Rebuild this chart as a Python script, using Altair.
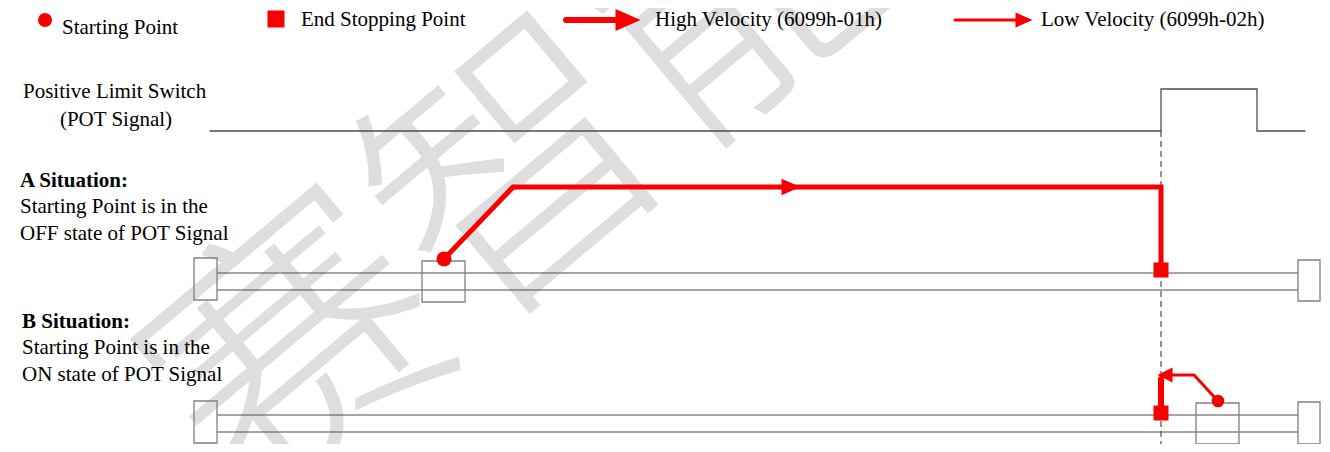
import altair as alt
import pandas as pd

# ---------------- data (diagram coordinates, reference pixels) ----------------
# watermark
wm_text = ["赛智能"]
wm_x = [525]
wm_y = [178]

# legend
leg_circle_x, leg_circle_y = [45], [20]
leg_square_x, leg_square_y = [276], [19]
leg_high_x, leg_high_y = [566, 616], [20, 20]
leg_high_head_x, leg_high_head_y = [628], [20]
leg_low_x, leg_low_y = [955, 1016], [20, 20]
leg_low_head_x, leg_low_head_y = [1024], [20]
leg_labels = ["Starting Point", "End Stopping Point", "High Velocity (6099h-01h)", "Low Velocity (6099h-02h)"]
leg_label_x = [62, 301, 655, 1041]
leg_label_y = [28, 20, 20, 20]

# POT signal
pot_x = [210, 1161, 1161, 1257, 1257, 1305]
pot_y = [131, 131, 89, 89, 131, 131]
dash_x = [1161]
dash_y1, dash_y2 = [131], [444]

# left labels
normal_labels = ["Positive Limit Switch", "Starting Point is in the", "OFF state of POT Signal",
                 "Starting Point is in the", "ON state of POT Signal"]
normal_x = [23, 20, 20, 22, 22]
normal_y = [92, 207, 234, 348, 375]
centered_labels = ["(POT Signal)"]
centered_x = [116]
centered_y = [120]
bold_labels = ["A Situation:", "B Situation:"]
bold_x = [20, 22]
bold_y = [181, 322]

# tracks
track_x1 = [217, 217, 217, 217]
track_x2 = [1298, 1298, 1298, 1298]
track_y = [273, 290, 415, 432]

# boxes (x1, x2, y1, y2)
box_x1 = [194, 1298, 422, 194, 1298, 1196]
box_x2 = [217, 1320, 465, 217, 1320, 1239]
box_y1 = [258, 260, 261, 401, 402, 403]
box_y2 = [300, 301, 302, 443, 444, 444]

# A situation path
a_path_x = [444, 513, 1161, 1161]
a_path_y = [259, 187, 187, 270]
a_head_x, a_head_y = [791], [187]
a_start_x, a_start_y = [444], [259]
a_end_x, a_end_y = [1161], [270]

# B situation path
b_low_x = [1218, 1194, 1170]
b_low_y = [401, 375, 375]
b_high_x = [1161, 1161]
b_high_y = [379, 413]
b_head_x, b_head_y = [1165], [375]
b_start_x, b_start_y = [1218], [401]
b_end_x, b_end_y = [1161], [413]

RED = "#f80000"
GRAY = "#4d4d4d"
BOXGRAY = "#808080"
SERIF = "Liberation Serif"

XS = alt.Scale(domain=[8, 1322], nice=False, zero=False)
YS = alt.Scale(domain=[8, 444], nice=False, zero=False, reverse=True)


def X(f="x"):
    return alt.X(f"{f}:Q", scale=XS, axis=None)


def Y(f="y"):
    return alt.Y(f"{f}:Q", scale=YS, axis=None)


def pts(xs, ys):
    return pd.DataFrame({"x": xs, "y": ys, "i": list(range(len(xs)))})


def line(xs, ys, width, color):
    return alt.Chart(pts(xs, ys)).mark_line(
        strokeWidth=width, color=color, strokeCap="round", strokeJoin="miter"
    ).encode(x=X(), y=Y(), order="i:Q")


def point(xs, ys, shape, size, color=RED):
    return alt.Chart(pts(xs, ys)).mark_point(
        shape=shape, size=size, filled=True, color=color, opacity=1, strokeWidth=0
    ).encode(x=X(), y=Y())


def texts(labels, xs, ys, weight="normal", align="left", size=21):
    df = pd.DataFrame({"x": xs, "y": ys, "t": labels})
    return alt.Chart(df).mark_text(
        font=SERIF, fontSize=size, fontWeight=weight, align=align, baseline="middle", color="#000000"
    ).encode(x=X(), y=Y(), text="t:N")


HEAD_R = "M-1,-0.88L1,0L-1,0.88Z"
HEAD_L = "M1,-1L-1,0L1,1Z"

layers = []

# watermark
layers.append(
    alt.Chart(pd.DataFrame({"x": wm_x, "y": wm_y, "t": wm_text})).mark_text(
        font="Noto Sans CJK SC", fontSize=285, fontWeight=300, angle=320, align="center",
        baseline="middle", color="#dedede"
    ).encode(x=X(), y=Y(), text="t:N")
)

# POT signal and dashed line
layers.append(line(pot_x, pot_y, 1.3, GRAY))
layers.append(
    alt.Chart(pd.DataFrame({"x": dash_x, "y": dash_y1, "y2": dash_y2})).mark_rule(
        color=GRAY, strokeWidth=1.2, strokeDash=[6, 4]
    ).encode(x=X(), y=Y(), y2="y2:Q")
)

# tracks
layers.append(
    alt.Chart(pd.DataFrame({"x": track_x1, "x2": track_x2, "y": track_y})).mark_rule(
        color=GRAY, strokeWidth=1.2
    ).encode(x=X(), x2="x2:Q", y=Y())
)

# boxes
layers.append(
    alt.Chart(pd.DataFrame({"x": box_x1, "x2": box_x2, "y": box_y1, "y2": box_y2})).mark_rect(
        fillOpacity=0, stroke=BOXGRAY, strokeWidth=1.3
    ).encode(x=X(), x2="x2:Q", y=Y(), y2="y2:Q")
)

# A path
layers.append(line(a_path_x, a_path_y, 5, RED))
layers.append(point(a_head_x, a_head_y, HEAD_R, 19 * 19))
layers.append(point(a_start_x, a_start_y, "circle", 225))
layers.append(point(a_end_x, a_end_y, "square", 225))

# B path
layers.append(line(b_low_x, b_low_y, 3, RED))
layers.append(line(b_high_x, b_high_y, 6, RED))
layers.append(point(b_head_x, b_head_y, HEAD_L, 15 * 15))
layers.append(point(b_start_x, b_start_y, "circle", 160))
layers.append(point(b_end_x, b_end_y, "square", 225))

# legend
layers.append(point(leg_circle_x, leg_circle_y, "circle", 196))
layers.append(point(leg_square_x, leg_square_y, "square", 289))
layers.append(line(leg_high_x, leg_high_y, 6, RED))
layers.append(point(leg_high_head_x, leg_high_head_y, HEAD_R, 25 * 25))
layers.append(line(leg_low_x, leg_low_y, 3, RED))
layers.append(point(leg_low_head_x, leg_low_head_y, HEAD_R, 17 * 17))
layers.append(texts(leg_labels, leg_label_x, leg_label_y))

# left labels
layers.append(texts(normal_labels, normal_x, normal_y))
layers.append(texts(centered_labels, centered_x, centered_y, align="center"))
layers.append(texts(bold_labels, bold_x, bold_y, weight="bold"))

chart = alt.layer(*layers).properties(
    width=1314, height=436, padding=0, autosize=alt.AutoSizeParams(type="none"), background="white"
).configure_view(stroke=None)

chart.save("out.html", embed_options={"renderer": "svg", "actions": False})
